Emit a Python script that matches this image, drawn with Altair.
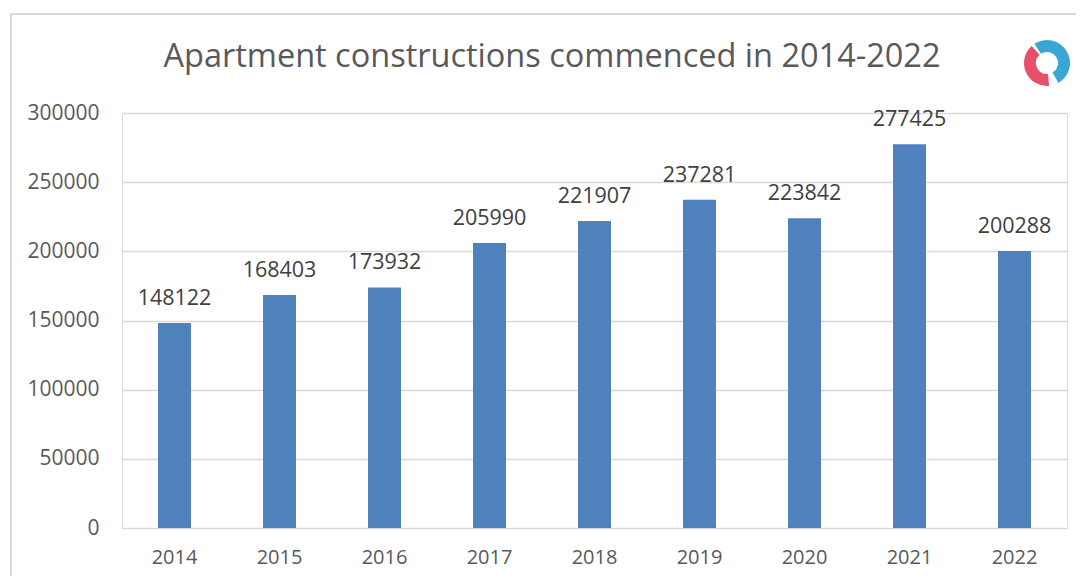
import altair as alt
import pandas as pd

years = ["2014", "2015", "2016", "2017", "2018", "2019", "2020", "2021", "2022"]
values = [148122, 168403, 173932, 205990, 221907, 237281, 223842, 277425, 200288]
y_ticks = [0, 50000, 100000, 150000, 200000, 250000, 300000]
title_text = "Apartment constructions commenced in 2014-2022"

df = pd.DataFrame({"year": years, "value": values})

FONT = "Open Sans"
W, H = 945, 415

x_enc = alt.X("year:N", sort=years, title=None,
              scale=alt.Scale(paddingInner=0.686, paddingOuter=0.343),
              axis=alt.Axis(labelAngle=0, labelFont=FONT, labelFontSize=20,
                            labelColor="#595959", labelPadding=19,
                            ticks=False, domain=False))
y_enc = alt.Y("value:Q", title=None,
              scale=alt.Scale(domain=[0, 300000], nice=False),
              axis=alt.Axis(values=y_ticks, format="d", labelFont=FONT,
                            labelFontSize=21, labelColor="#595959",
                            labelPadding=23, ticks=False, domain=False,
                            gridColor="#d9d9d9", gridWidth=1.5))

base = alt.Chart(df)

bars = base.mark_bar(color="#4F81BD").encode(x=x_enc, y=y_enc)

labels = base.mark_text(font=FONT, fontSize=21.5, color="#404040",
                        baseline="alphabetic", dy=-18).encode(
    x=alt.X("year:N", sort=years), y="value:Q", text=alt.Text("value:Q", format="d"))

one = pd.DataFrame({"t": [title_text]})

title = alt.Chart(one).mark_text(font=FONT, fontSize=32.5, color="#595959",
                                 align="center", baseline="alphabetic").encode(
    x=alt.value(430), y=alt.value(-46), text="t:N")

border = alt.Chart(one).mark_rect(
    fill=None, stroke="#d9d9d9", strokeWidth=2).encode(
    x=alt.value(-111), x2=alt.value(980), y=alt.value(-99), y2=alt.value(500))

logo_blue = alt.Chart(one).mark_arc(
    theta=5.7, theta2=8.9, innerRadius=11, outerRadius=23, color="#3aa6d6").encode(
    x=alt.value(925), y=alt.value(-50))
logo_red = alt.Chart(one).mark_arc(
    theta=3.05, theta2=5.55, innerRadius=11, outerRadius=23, color="#e8506a").encode(
    x=alt.value(925), y=alt.value(-50))

chart = alt.layer(border, bars, labels, title, logo_blue, logo_red).properties(
    width=W, height=H,
    autosize=alt.AutoSizeParams(type="none"),
    padding={"left": 114, "top": 105, "right": 9, "bottom": 48},
).configure_view(stroke=None).configure(background="white")

chart.save("out.html", embed_options={"renderer": "svg", "actions": False})
